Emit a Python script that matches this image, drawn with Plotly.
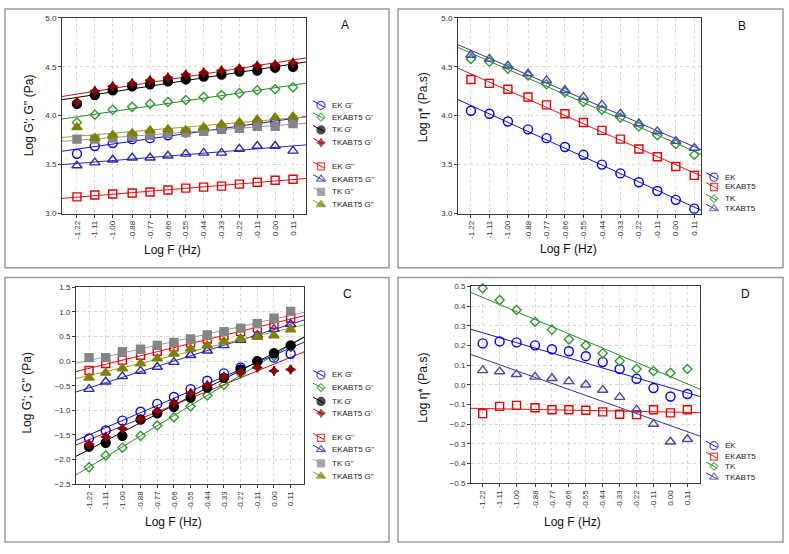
import numpy as np
import plotly.graph_objects as go

W, H = 789, 554
FONT = "Arial, 'Liberation Sans', sans-serif"

# ---------------- data ----------------
log_f = [-1.22, -1.11, -1.00, -0.88, -0.77, -0.66, -0.55, -0.44, -0.33, -0.22, -0.11, 0.00, 0.11]
x_labels = ["-1.22", "-1.11", "-1.00", "-0.88", "-0.77", "-0.66", "-0.55",
            "-0.44", "-0.33", "-0.22", "-0.11", "0.00", "0.11"]

# Panel A : Log G'; G'' (Pa)
a_ek_g1 = [3.61, 3.69, 3.72, 3.76, 3.77, 3.80, 3.83, 3.85, 3.87, 3.89, 3.92, 3.93, 3.96]
a_ekabt5_g1 = [3.93, 4.01, 4.06, 4.09, 4.12, 4.14, 4.16, 4.19, 4.21, 4.23, 4.26, 4.27, 4.29]
a_tk_g1 = [4.12, 4.21, 4.26, 4.30, 4.32, 4.35, 4.37, 4.40, 4.42, 4.45, 4.46, 4.49, 4.50]
a_tkabt5_g1 = [4.14, 4.25, 4.30, 4.33, 4.36, 4.39, 4.42, 4.44, 4.46, 4.48, 4.51, 4.52, 4.54]
a_ek_g2 = [3.17, 3.19, 3.20, 3.21, 3.22, 3.24, 3.26, 3.27, 3.28, 3.30, 3.32, 3.34, 3.35]
a_ekabt5_g2 = [3.49, 3.52, 3.55, 3.57, 3.57, 3.59, 3.61, 3.62, 3.62, 3.66, 3.69, 3.69, 3.64]
a_tk_g2 = [3.76, 3.76, 3.77, 3.79, 3.80, 3.82, 3.83, 3.84, 3.86, 3.87, 3.89, 3.89, 3.92]
a_tkabt5_g2 = [3.88, 3.77, 3.80, 3.82, 3.85, 3.86, 3.85, 3.88, 3.91, 3.93, 3.96, 3.98, 3.99]

# Panel B : Log eta* (Pa.s)
b_ek = [4.05, 4.02, 3.94, 3.86, 3.77, 3.68, 3.60, 3.50, 3.41, 3.32, 3.23, 3.14, 3.05]
b_ekabt5 = [4.37, 4.33, 4.27, 4.19, 4.11, 4.02, 3.93, 3.85, 3.76, 3.66, 3.58, 3.48, 3.39]
b_tk = [4.58, 4.55, 4.48, 4.41, 4.32, 4.24, 4.14, 4.06, 3.98, 3.89, 3.80, 3.71, 3.60]
b_tkabt5 = [4.62, 4.58, 4.51, 4.43, 4.36, 4.26, 4.19, 4.11, 4.02, 3.92, 3.84, 3.74, 3.67]

# Panel C : Log G'; G'' (Pa)
c_ek_g1 = [-1.57, -1.41, -1.21, -1.03, -0.87, -0.73, -0.57, -0.40, -0.25, -0.13, -0.01, 0.07, 0.15]
c_ekabt5_g1 = [-2.16, -1.92, -1.76, -1.52, -1.31, -1.14, -0.92, -0.70, -0.48, -0.25, -0.02, 0.10, 0.29]
c_tk_g1 = [-1.74, -1.66, -1.52, -1.19, -1.06, -0.93, -0.74, -0.54, -0.34, -0.17, 0.00, 0.16, 0.32]
c_tkabt5_g1 = [-1.69, -1.54, -1.37, -1.18, -1.02, -0.85, -0.65, -0.49, -0.32, -0.23, -0.13, -0.20, -0.17]
c_ek_g2 = [-0.19, -0.05, 0.02, 0.12, 0.20, 0.29, 0.37, 0.45, 0.52, 0.60, 0.67, 0.75, 0.87]
c_ekabt5_g2 = [-0.57, -0.42, -0.31, -0.20, -0.12, -0.02, 0.12, 0.21, 0.32, 0.43, 0.53, 0.65, 0.75]
c_tk_g2 = [0.07, 0.07, 0.19, 0.24, 0.32, 0.38, 0.45, 0.53, 0.60, 0.67, 0.76, 0.87, 1.01]
c_tkabt5_g2 = [-0.34, -0.24, -0.15, -0.05, 0.05, 0.15, 0.25, 0.32, 0.40, 0.46, 0.49, 0.52, 0.64]

# Panel D : Log eta* (Pa.s)
d_ek = [0.21, 0.22, 0.215, 0.20, 0.18, 0.17, 0.145, 0.115, 0.08, 0.03, -0.017, -0.06, -0.047]
d_ekabt5 = [-0.147, -0.11, -0.105, -0.117, -0.127, -0.127, -0.13, -0.138, -0.15, -0.152, -0.127, -0.143, -0.127]
d_tk = [0.49, 0.43, 0.38, 0.32, 0.28, 0.23, 0.20, 0.16, 0.12, 0.08, 0.07, 0.06, 0.08]
d_tkabt5 = [0.073, 0.067, 0.053, 0.040, 0.033, 0.017, 0.000, -0.027, -0.063, -0.127, -0.200, -0.290, -0.277]

# ---------------- styles ----------------
ST = {
    "EK G'": dict(sym="circle-open", mc="#0000ff", lc="#1010ee", size=9),
    "EKABT5 G'": dict(sym="diamond-open", mc="#2f9a2f", lc="#2a8a2a", size=7),
    "TK G'": dict(sym="circle", mc="#000000", lc="#000000", size=9),
    "TKABT5 G'": dict(sym="star-diamond", mc="#8b0000", lc="#cc1010", size=7),
    "EK G''": dict(sym="square-open", mc="#ee0000", lc="#ee1010", size=8),
    "EKABT5 G''": dict(sym="triangle-up-open", mc="#2a2ab0", lc="#2a2ab0", size=9),
    "TK G''": dict(sym="square", mc="#858585", lc="#999999", size=8),
    "TKABT5 G''": dict(sym="triangle-up", mc="#7f7f00", lc="#a0a020", size=9),
    "EK": dict(sym="circle-open", mc="#0000ff", lc="#1010ee", size=9),
    "EKABT5": dict(sym="square-open", mc="#ee0000", lc="#ee1010", size=8),
    "TK": dict(sym="diamond-open", mc="#2f9a2f", lc="#2a8a2a", size=7),
    "TKABT5": dict(sym="triangle-up-open", mc="#4a4ab0", lc="#3535a5", size=9),
}

panels = {
    "A": dict(ax="", px=(62, 306), py=(14, 213), xr=(-1.312, 0.19), yr=(3.0, 5.0), dt=0.5,
              series=[("EK G'", a_ek_g1), ("EKABT5 G'", a_ekabt5_g1), ("TK G'", a_tk_g1),
                      ("TKABT5 G'", a_tkabt5_g1), ("EK G''", a_ek_g2), ("EKABT5 G''", a_ekabt5_g2),
                      ("TK G''", a_tk_g2), ("TKABT5 G''", a_tkabt5_g2)],
              ytitle="Log G'; G'' (Pa)", yt=(29, 113), xt=(172, 250), letter=(345, 21),
              leg=(330, [103, 115, 128, 141, 165, 178, 191, 204])),
    "B": dict(ax="2", px=(458, 701), py=(14, 213), xr=(-1.297, 0.15), yr=(3.0, 5.0), dt=0.5,
              series=[("EK", b_ek), ("EKABT5", b_ekabt5), ("TK", b_tk), ("TKABT5", b_tkabt5)],
              ytitle="Log η* (Pa.s)", yt=(423, 105), xt=(568, 249), letter=(742, 22),
              leg=(723, [176, 186, 198, 208])),
    "C": dict(ax="3", px=(76, 304), py=(288, 488), xr=(-1.306, 0.198), yr=(-2.5, 1.5), dt=0.5,
              series=[("EK G'", c_ek_g1), ("EKABT5 G'", c_ekabt5_g1), ("TK G'", c_tk_g1),
                      ("TKABT5 G'", c_tkabt5_g1), ("EK G''", c_ek_g2), ("EKABT5 G''", c_ekabt5_g2),
                      ("TK G''", c_tk_g2), ("TKABT5 G''", c_tkabt5_g2)],
              ytitle="Log G'; G'' (Pa)", yt=(27, 395), xt=(173, 527), letter=(347, 295),
              leg=(330, [377, 390, 404, 416, 441, 453, 467, 480])),
    "D": dict(ax="4", px=(471, 700), py=(287, 487), xr=(-1.296, 0.192), yr=(-0.5, 0.5), dt=0.1,
              series=[("EK", d_ek), ("EKABT5", d_ekabt5), ("TK", d_tk), ("TKABT5", d_tkabt5)],
              ytitle="Log η* (Pa.s)", yt=(423, 390), xt=(572, 527), letter=(745, 295),
              leg=(723, [449, 460, 470, 481])),
}

fig = go.Figure()
layout = dict(
    width=W, height=H, margin=dict(l=0, r=0, t=0, b=0),
    paper_bgcolor="white", plot_bgcolor="rgba(0,0,0,0)",
    showlegend=False, font=dict(family=FONT, color="#222"),
    shapes=[], annotations=[],
)

def xdom(p):
    return [p[0] / W, p[1] / W]

def ydom(p):
    return [1 - p[1] / H, 1 - p[0] / H]

# outer panel frames
for (x0, y0, x1, y1) in [(5, 5, 389, 268), (398, 5, 783, 268), (5, 278, 389, 547), (398, 278, 783, 547)]:
    layout["shapes"].append(dict(type="rect", xref="paper", yref="paper", layer="below",
                                 x0=x0 / W, x1=x1 / W, y0=1 - y1 / H, y1=1 - y0 / H,
                                 line=dict(color="#9a9a9a", width=1.5)))

xs = np.array(log_f)
for key, p in panels.items():
    ax = p["ax"]
    xa, ya = "x" + ax, "y" + ax
    common = dict(showline=True, mirror=True, linecolor="#3a3a3a", linewidth=1,
                  showgrid=True, gridcolor="#d6d6d6", griddash="dot", gridwidth=1,
                  zeroline=False, ticks="outside", ticklen=3, tickcolor="#3a3a3a",
                  tickfont=dict(size=8, color="#333", family=FONT))
    layout["xaxis" + ax] = dict(domain=xdom(p["px"]), range=list(p["xr"]), anchor=ya,
                                tickmode="array", tickvals=log_f, ticktext=x_labels,
                                tickangle=-90, **common)
    layout["yaxis" + ax] = dict(domain=ydom(p["py"]), range=list(p["yr"]), anchor=xa,
                                tickmode="linear", tick0=p["yr"][0], dtick=p["dt"],
                                tickformat=".1f", **common)
    # fitted regression lines (computed from the data)
    for name, vals in p["series"]:
        s = ST[name]
        k, b = np.polyfit(xs, np.array(vals), 1)
        xl = np.array(p["xr"])
        fig.add_trace(go.Scatter(x=xl, y=k * xl + b, mode="lines", xaxis=xa, yaxis=ya,
                                 line=dict(color=s["lc"], width=1), hoverinfo="skip"))
    for name, vals in p["series"]:
        s = ST[name]
        fig.add_trace(go.Scatter(x=log_f, y=vals, mode="markers", name=name, xaxis=xa, yaxis=ya,
                                 marker=dict(symbol=s["sym"], size=s["size"], color=s["mc"],
                                             line=dict(color=s["mc"], width=1.4)),
                                 cliponaxis=False))
    # titles / letter
    layout["annotations"] += [
        dict(text=p["ytitle"], x=p["yt"][0] / W, y=1 - p["yt"][1] / H, xref="paper", yref="paper",
             textangle=-90, showarrow=False, font=dict(size=12, color="#111"),
             xanchor="center", yanchor="middle"),
        dict(text="Log F (Hz)", x=p["xt"][0] / W, y=1 - p["xt"][1] / H, xref="paper", yref="paper",
             showarrow=False, font=dict(size=12, color="#111"), xanchor="center", yanchor="middle"),
        dict(text=key, x=p["letter"][0] / W, y=1 - p["letter"][1] / H, xref="paper", yref="paper",
             showarrow=False, font=dict(size=12, color="#111"), xanchor="center", yanchor="middle"),
    ]

# manual compact legends on a pixel-space overlay axis
layout["xaxis5"] = dict(domain=[0, 1], range=[0, W], visible=False, anchor="y5", fixedrange=True)
layout["yaxis5"] = dict(domain=[0, 1], range=[H, 0], visible=False, anchor="x5", fixedrange=True)
for key, p in panels.items():
    tx, rows = p["leg"]
    for (name, _), ry in zip(p["series"], rows):
        s = ST[name]
        mx = tx - 9
        fig.add_trace(go.Scatter(x=[mx - 8, mx, mx + 3], y=[ry - 4.5, ry, ry + 1.6],
                                 mode="lines+markers", xaxis="x5", yaxis="y5", hoverinfo="skip",
                                 line=dict(color=s["lc"], width=1),
                                 marker=dict(symbol=s["sym"], size=[0, s["size"] - 1, 0], color=s["mc"],
                                             line=dict(color=s["mc"], width=1.3))))
        layout["annotations"].append(dict(text=name, x=tx, y=ry, xref="x5", yref="y5",
                                          showarrow=False, xanchor="left", yanchor="middle",
                                          font=dict(size=8, color="#222")))

fig.update_layout(**layout)
fig.write_html("out.html", config={"displayModeBar": False},
               post_script="document.body.style.margin='0';document.body.style.overflow='hidden';")
